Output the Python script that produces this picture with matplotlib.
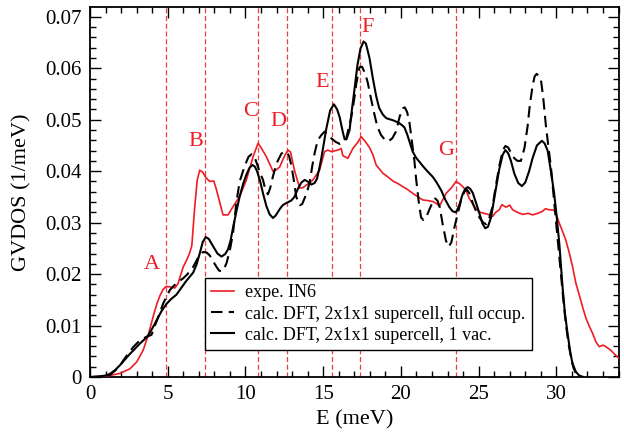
import matplotlib
matplotlib.use("Agg")
import matplotlib.pyplot as plt
from matplotlib.ticker import MultipleLocator, FuncFormatter

plt.rcParams['font.family'] = ['Liberation Serif', 'DejaVu Serif']

# ---- experimental (IN6) ----
exp_E = [0, 0.6, 1.28, 1.93, 2.57, 3.0, 3.42, 3.75, 4.07, 4.3, 4.5, 4.7, 4.9, 5.2, 5.46,
         5.67, 5.85, 6.0, 6.2, 6.4, 6.55, 6.74, 6.9, 7.06, 7.25, 7.45, 7.7, 7.96, 8.1, 8.3,
         8.56, 8.88, 9.2, 9.63, 10.06, 10.49, 10.81, 11.0, 11.35, 11.77, 12.0, 12.2, 12.52,
         12.74, 12.9, 13.17, 13.49, 13.7, 13.92, 14.13, 14.34, 14.77, 15.09, 15.3, 15.52,
         15.95, 16.16, 16.27, 16.59, 16.91, 17.2, 17.45, 17.7, 17.98, 18.2, 18.41, 18.84,
         19.2, 19.48, 19.8, 20.12, 20.4, 20.76, 21.1, 21.41, 21.7, 22.05, 22.3, 22.48, 22.7,
         22.91, 23.23, 23.55, 23.8, 23.98, 24.2, 24.4, 24.84, 25.1, 25.37, 25.6, 25.9, 26.1,
         26.33, 26.5, 26.76, 27.0, 27.19, 27.5, 27.83, 28.2, 28.47, 28.8, 29.11, 29.3, 29.54,
         29.86, 30.0, 30.19, 30.4, 30.61, 30.8, 31.04, 31.26, 31.47, 31.68, 31.9, 32.1, 32.33,
         32.55, 32.76, 33.0, 33.19, 33.5, 33.83, 34.0]
exp_G = [0, 0.0001, 0.0003, 0.0007, 0.0016, 0.0029, 0.0052, 0.0082, 0.0118, 0.0142, 0.0158,
         0.0170, 0.0176, 0.0175, 0.0173, 0.0182, 0.0200, 0.0214, 0.0226, 0.0240, 0.0255,
         0.0331, 0.0383, 0.0402, 0.0398, 0.0388, 0.0380, 0.0381, 0.0368, 0.0345, 0.0315,
         0.0315, 0.0331, 0.0351, 0.0383, 0.0428, 0.0454, 0.0446, 0.0428, 0.0400, 0.0403,
         0.0408, 0.0430, 0.0441, 0.0437, 0.0400, 0.0367, 0.0368, 0.0373, 0.0377, 0.0383,
         0.0402, 0.0438, 0.0441, 0.0438, 0.0441, 0.0444, 0.0430, 0.0425, 0.0444, 0.0455,
         0.0467, 0.0458, 0.0446, 0.0432, 0.0412, 0.0396, 0.0388, 0.0381, 0.0376, 0.0370,
         0.0365, 0.0357, 0.0350, 0.0344, 0.0343, 0.0341, 0.0337, 0.0332, 0.0345, 0.0357,
         0.0367, 0.0380, 0.0375, 0.0370, 0.0362, 0.0347, 0.0326, 0.0320, 0.0318, 0.0316,
         0.0312, 0.0320, 0.0325, 0.0335, 0.0330, 0.0334, 0.0325, 0.0320, 0.0316, 0.0318,
         0.0315, 0.0318, 0.0322, 0.0327, 0.0325, 0.0324, 0.0316, 0.0299, 0.0283, 0.0266,
         0.0245, 0.0215, 0.0182, 0.0160, 0.0137, 0.0115, 0.0100, 0.0085, 0.0068, 0.0059,
         0.0062, 0.0059, 0.0052, 0.0042, 0.0037]

# ---- DFT, full occupation (dashed) ----
full_E = [0, 0.8, 1.28, 1.6, 1.93, 2.14, 2.45, 2.78, 3.1, 3.42, 3.64, 3.96, 4.28, 4.5, 4.71,
          4.92, 5.14, 5.35, 5.56, 5.78, 6.0, 6.21, 6.42, 6.64, 6.85, 7.06, 7.28, 7.5, 7.71,
          7.92, 8.14, 8.3, 8.46, 8.62, 8.78, 8.99, 9.2, 9.42, 9.63, 9.95, 10.2, 10.4, 10.55,
          10.7, 10.9, 11.13, 11.3, 11.45, 11.6, 11.77, 12.0, 12.31, 12.5, 12.63, 12.8, 12.95,
          13.1, 13.27, 13.49, 13.65, 13.81, 13.95, 14.13, 14.3, 14.45, 14.65, 14.88, 15.1,
          15.3, 15.52, 15.8, 16.06, 16.3, 16.49, 16.65, 16.81, 17.0, 17.13, 17.34, 17.5,
          17.7, 17.87, 18.05, 18.3, 18.5, 18.73, 19.0, 19.2, 19.45, 19.7, 19.91, 20.12,
          20.25, 20.4, 20.55, 20.7, 20.87, 20.98, 21.15, 21.3, 21.45, 21.62, 21.84, 22.05,
          22.2, 22.35, 22.5, 22.7, 22.9, 23.08, 23.25, 23.44, 23.66, 23.87, 24.08, 24.25,
          24.45, 24.62, 24.84, 25.05, 25.3, 25.48, 25.7, 25.9, 26.1, 26.33, 26.55, 26.72,
          26.9, 27.08, 27.3, 27.5, 27.72, 27.95, 28.15, 28.3, 28.47, 28.6, 28.73, 28.9,
          29.01, 29.15, 29.33, 29.5, 29.65, 29.8, 29.97, 30.15, 30.29, 30.45, 30.61, 30.78,
          30.94, 31.1, 31.26, 31.5, 31.8]
full_G = [0, 0.0001, 0.0004, 0.0012, 0.0022, 0.0032, 0.0045, 0.0058, 0.0068, 0.0075, 0.0078,
          0.0082, 0.0108, 0.0125, 0.0143, 0.0156, 0.0169, 0.0176, 0.0182, 0.0187, 0.0192,
          0.0198, 0.0205, 0.0214, 0.0226, 0.0238, 0.0243, 0.0242, 0.0236, 0.0225, 0.0214,
          0.0207, 0.0205, 0.0210, 0.0221, 0.0245, 0.0279, 0.0340, 0.0380, 0.0410, 0.0428,
          0.0433, 0.0430, 0.0418, 0.0400, 0.0383, 0.0362, 0.0355, 0.0368, 0.0390, 0.0415,
          0.0434, 0.0438, 0.0438, 0.0430, 0.0412, 0.0385, 0.0350, 0.0334, 0.0336, 0.0348,
          0.0358, 0.0378, 0.0410, 0.0435, 0.0460, 0.0470, 0.0477, 0.0472, 0.0464, 0.0457,
          0.0453, 0.0458, 0.0464, 0.0485, 0.0505, 0.0540, 0.0570, 0.0602, 0.0603, 0.0590,
          0.0572, 0.0545, 0.0510, 0.0485, 0.0470, 0.0460, 0.0458, 0.0464, 0.0478, 0.0505,
          0.0522, 0.0524, 0.0515, 0.0495, 0.0460, 0.0420, 0.0385, 0.0340, 0.0310, 0.0305,
          0.0310, 0.0326, 0.0340, 0.0347, 0.0343, 0.0330, 0.0295, 0.0265, 0.0253, 0.0262,
          0.0290, 0.0318, 0.0343, 0.0360, 0.0364, 0.0355, 0.0338, 0.0322, 0.0310, 0.0300,
          0.0297, 0.0310, 0.0332, 0.0370, 0.0410, 0.0440, 0.0449, 0.0446, 0.0436, 0.0425,
          0.0420, 0.0420, 0.0445, 0.0487, 0.0530, 0.0565, 0.0584, 0.0589, 0.0585, 0.0577,
          0.0545, 0.0488, 0.0445, 0.0409, 0.0360, 0.0305, 0.0248, 0.0202, 0.0150, 0.0104,
          0.0065, 0.0039, 0.0018, 0.0007, 0.0001, 0.0]

# ---- DFT, 1 vacancy (solid) ----
vac_E = [0, 0.6, 1.0, 1.28, 1.6, 1.93, 2.25, 2.57, 2.9, 3.21, 3.5, 3.75, 4.0, 4.28, 4.6,
         4.92, 5.2, 5.56, 5.8, 6.0, 6.2, 6.42, 6.64, 6.85, 7.06, 7.25, 7.45, 7.65, 7.92, 8.2,
         8.46, 8.7, 8.88, 9.05, 9.2, 9.42, 9.63, 9.85, 10.06, 10.25, 10.45, 10.6, 10.75,
         10.95, 11.13, 11.35, 11.56, 11.77, 11.95, 12.2, 12.4, 12.63, 12.95, 13.15, 13.38,
         13.6, 13.81, 14.0, 14.24, 14.45, 14.6, 14.75, 14.88, 15.05, 15.2, 15.45, 15.69,
         15.9, 16.06, 16.25, 16.38, 16.5, 16.7, 16.85, 17.02, 17.2, 17.4, 17.6, 17.75, 17.98,
         18.2, 18.41, 18.6, 18.84, 19.06, 19.48, 19.8, 20.05, 20.23, 20.4, 20.55, 20.76,
         20.98, 21.2, 21.41, 21.7, 22.05, 22.3, 22.59, 22.85, 23.12, 23.33, 23.55, 23.76,
         23.98, 24.15, 24.3, 24.45, 24.62, 24.84, 25.05, 25.25, 25.43, 25.6, 25.8, 26.05,
         26.33, 26.55, 26.72, 26.9, 27.08, 27.3, 27.55, 27.79, 28.0, 28.25, 28.47, 28.75,
         29.07, 29.25, 29.44, 29.65, 29.86, 30.0, 30.19, 30.4, 30.55, 30.72, 30.9, 31.04,
         31.26, 31.47, 31.7]
vac_G = [0, 0.0001, 0.0003, 0.0006, 0.0013, 0.0023, 0.0034, 0.0045, 0.0055, 0.0065, 0.0073,
         0.0081, 0.0094, 0.0110, 0.0128, 0.0142, 0.0151, 0.0160, 0.0170, 0.0178, 0.0187,
         0.0195, 0.0203, 0.0218, 0.0240, 0.0262, 0.0272, 0.0268, 0.0254, 0.0240, 0.0234,
         0.0239, 0.0248, 0.0266, 0.0290, 0.0322, 0.0351, 0.0375, 0.0393, 0.0406, 0.0412,
         0.0409, 0.0400, 0.0380, 0.0357, 0.0332, 0.0316, 0.0309, 0.0314, 0.0326, 0.0334,
         0.0338, 0.0343, 0.0350, 0.0366, 0.0378, 0.0383, 0.0380, 0.0374, 0.0377, 0.0385,
         0.0405, 0.0425, 0.0455, 0.0482, 0.0518, 0.0530, 0.0520, 0.0505, 0.0478, 0.0462,
         0.0462, 0.0480, 0.0520, 0.0560, 0.0605, 0.0638, 0.0652, 0.0648, 0.0620, 0.0580,
         0.0546, 0.0523, 0.0510, 0.0503, 0.0499, 0.0495, 0.0490, 0.0485, 0.0472, 0.0458,
         0.0438, 0.0426, 0.0418, 0.0410, 0.0400, 0.0389, 0.0378, 0.0363, 0.0345, 0.0330,
         0.0322, 0.0320, 0.0334, 0.0356, 0.0366, 0.0369, 0.0366, 0.0358, 0.0338, 0.0318,
         0.0298, 0.0289, 0.0292, 0.0310, 0.0355, 0.0404, 0.0432, 0.0441, 0.0435, 0.0420,
         0.0395, 0.0377, 0.0371, 0.0378, 0.0400, 0.0425, 0.0450, 0.0459, 0.0454, 0.0440,
         0.0400, 0.0357, 0.0318, 0.0260, 0.0175, 0.0125, 0.0085, 0.0048, 0.0026, 0.0010,
         0.0003, 0.0]

# ---- marker lines and letters ----
mark_E = [4.9, 7.4, 10.8, 12.7, 15.55, 17.38, 23.57]
mark_labels = ['A', 'B', 'C', 'D', 'E', 'F', 'G']
label_x = [3.98, 6.8, 10.3, 12.1, 14.96, 17.85, 22.9]
label_y = [0.0218, 0.0457, 0.0515, 0.0496, 0.0572, 0.0680, 0.0441]

legend_labels = ['expe. IN6',
                 'calc. DFT, 2x1x1 supercell, full occup.',
                 'calc. DFT, 2x1x1 supercell, 1 vac.']

fig = plt.figure(figsize=(6.24, 4.33), dpi=100)
ax = fig.add_axes([0.1442, 0.1293, 0.8470, 0.8545])

red = '#ee1c24'
for xv in mark_E:
    ax.axvline(xv, color=red, lw=0.9, dashes=(4, 2.2), alpha=0.85, zorder=1)

ax.plot(exp_E, exp_G, color=red, lw=1.2, label=legend_labels[0], zorder=3)
ax.plot(full_E, full_G, color='black', lw=1.5, dashes=(5.5, 3), label=legend_labels[1], zorder=4)
ax.plot(vac_E, vac_G, color='black', lw=1.5, label=legend_labels[2], zorder=5)

for lx, ly, t in zip(label_x, label_y, mark_labels):
    ax.text(lx, ly, t, color=red, fontsize=16, ha='center', va='center')

ax.set_xlim(0, 34)
ax.set_ylim(0, 0.0719)
ax.xaxis.set_major_locator(MultipleLocator(5))
ax.xaxis.set_minor_locator(MultipleLocator(1))
ax.yaxis.set_major_locator(MultipleLocator(0.01))
ax.yaxis.set_minor_locator(MultipleLocator(0.002))
ax.yaxis.set_major_formatter(FuncFormatter(lambda v, p: f'{v:.2f}'.rstrip('0').rstrip('.') if v != 0 else '0'))
ax.tick_params(which='both', direction='in', top=True, right=True, labelsize=15, width=1.0)
ax.tick_params(which='major', length=8, pad=6)
ax.tick_params(which='minor', length=4.5)
for s in ax.spines.values():
    s.set_linewidth(1.3)

ax.set_xlabel('E (meV)', fontsize=16, labelpad=4)
ax.set_ylabel('GVDOS (1/meV)', fontsize=16, labelpad=10)

leg = ax.legend(loc='lower left', bbox_to_anchor=(0.217, 0.073), fontsize=13.0,
                frameon=True, fancybox=False, framealpha=1, edgecolor='black',
                handlelength=1.3, handletextpad=0.6, borderpad=0.35, labelspacing=0.22,
                borderaxespad=0)
leg.get_frame().set_linewidth(1.0)

fig.savefig('out.png', dpi=100)
